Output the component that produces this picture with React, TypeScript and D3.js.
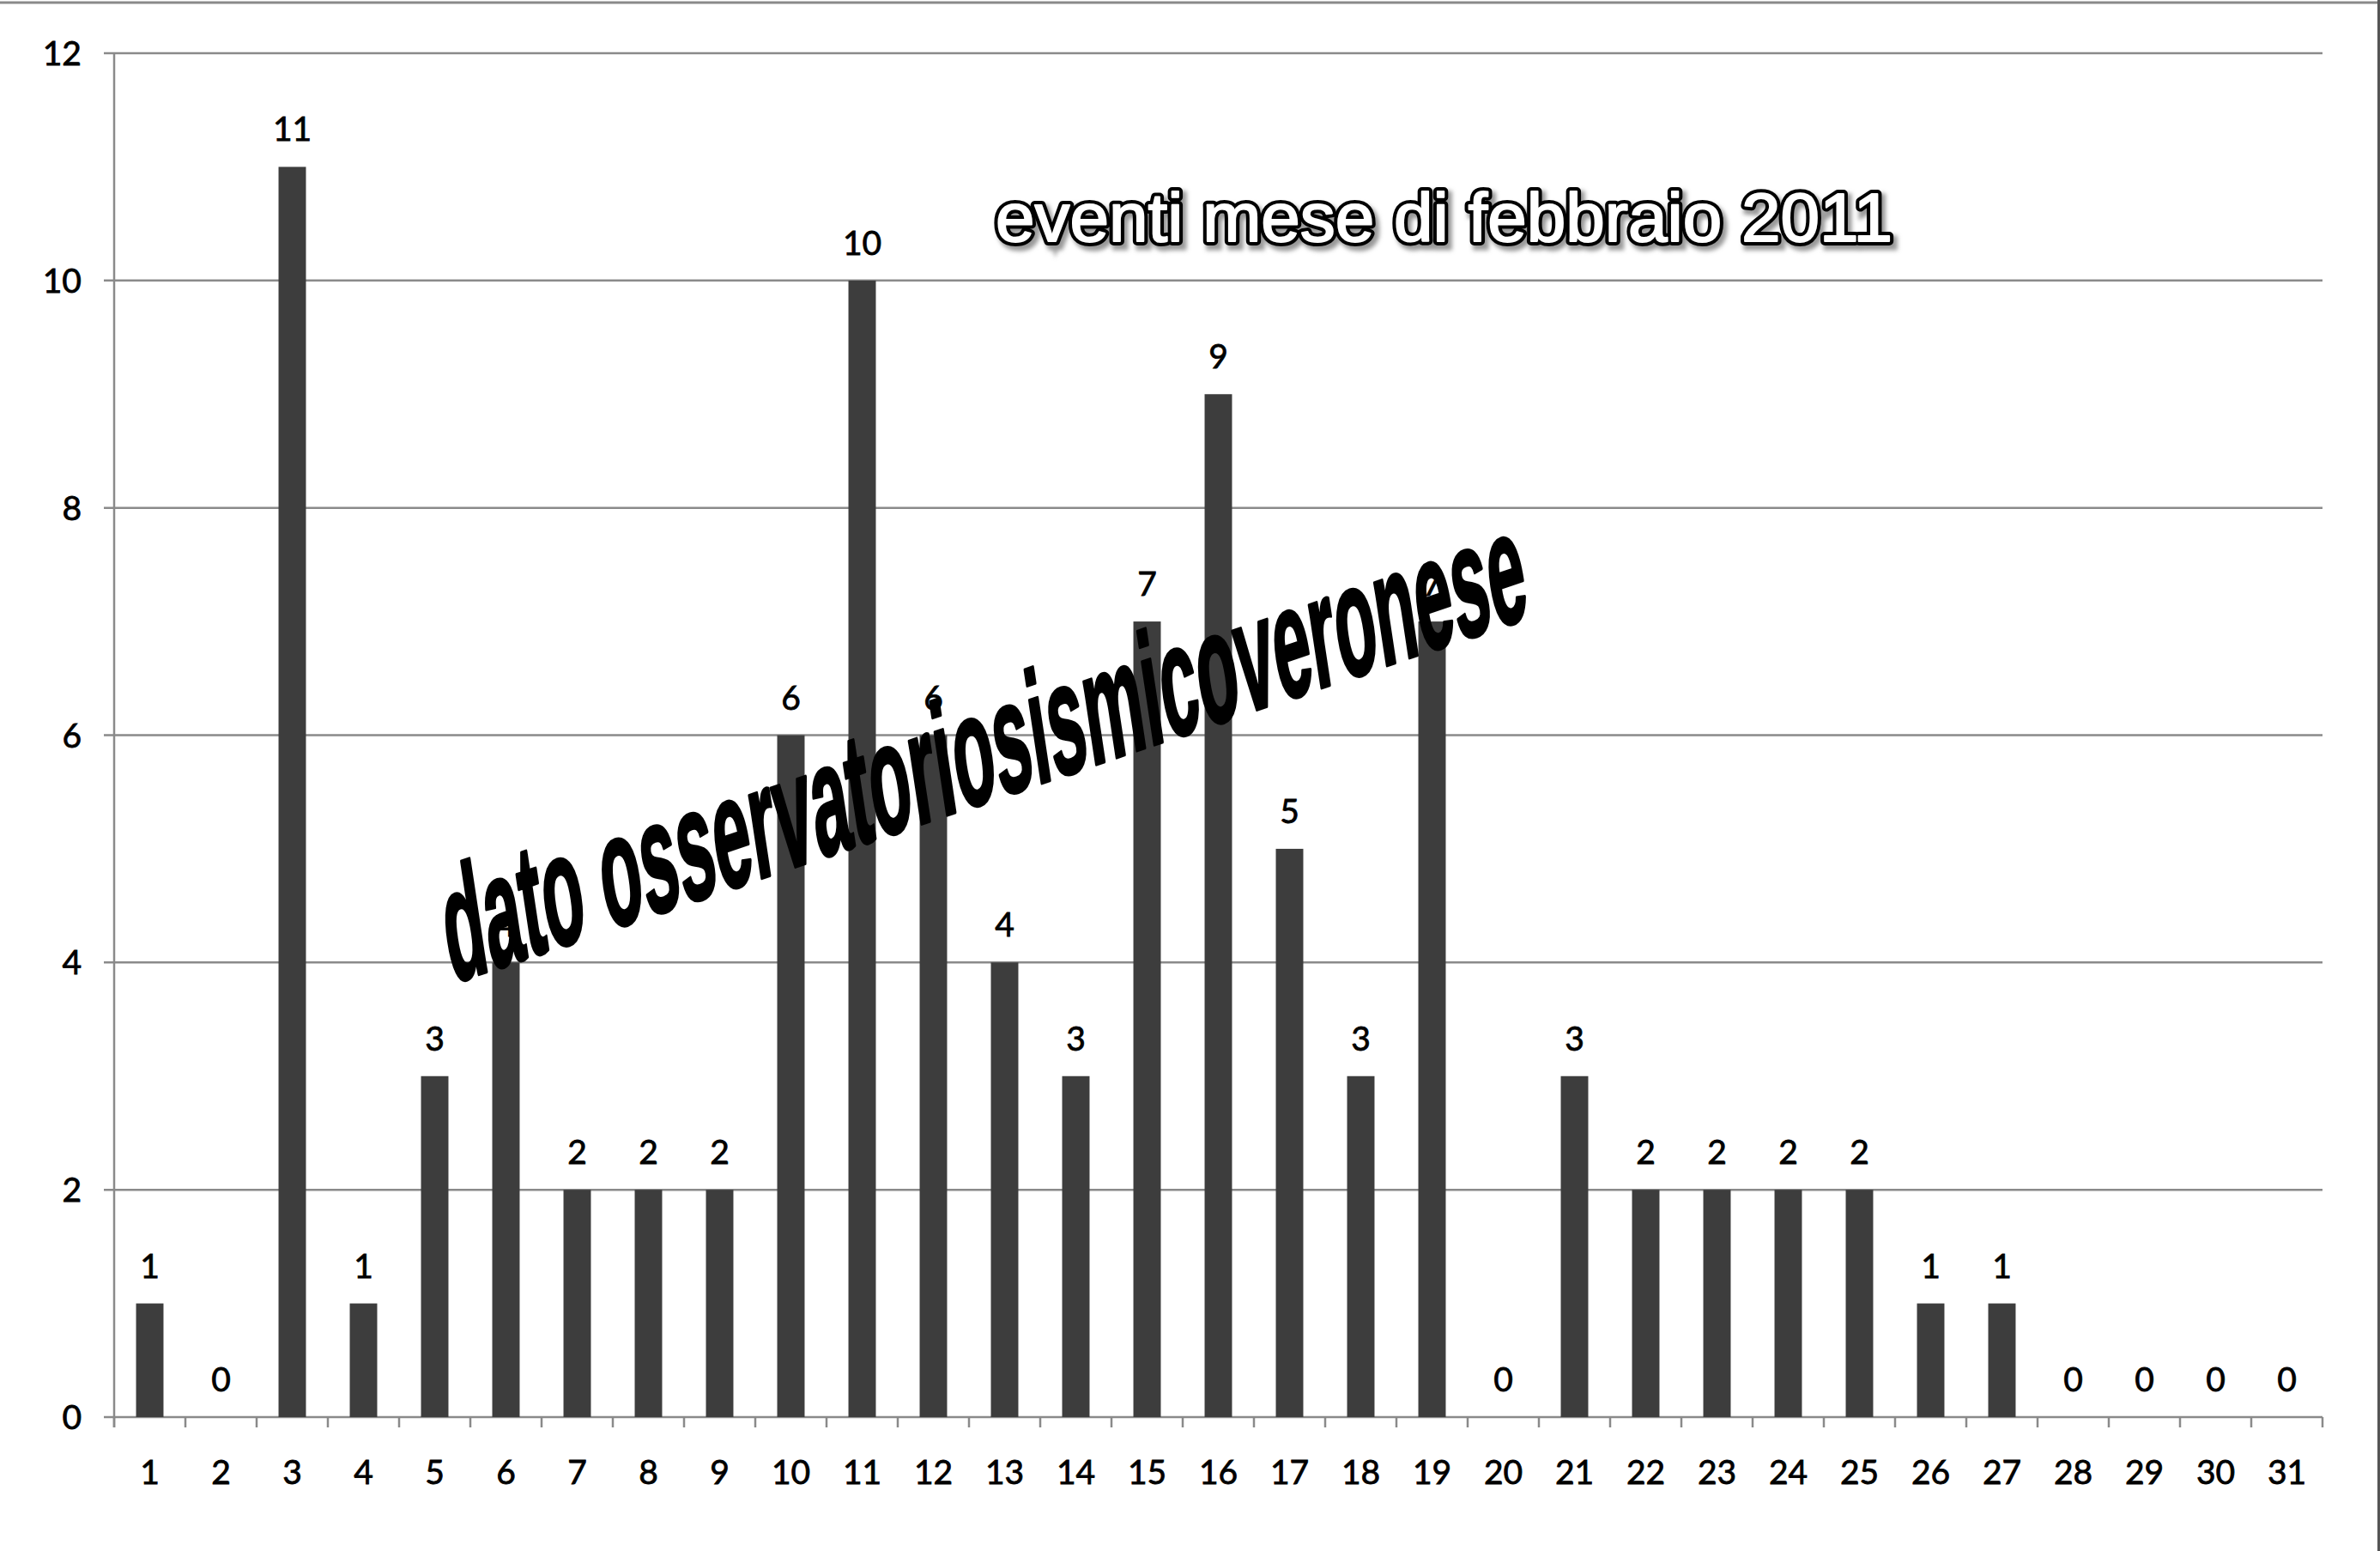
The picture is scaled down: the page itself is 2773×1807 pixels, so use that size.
import React, { useEffect } from "react";
import { scaleBand, scaleLinear, range } from "d3";

// giorni del mese e numero di eventi
const days = range(1, 32).map(String);
const events = [
  1, 0, 11, 1, 3, 4, 2, 2, 2, 6, 10, 6, 4, 3, 7, 9, 5, 3, 7, 0, 3, 2, 2, 2, 2,
  1, 1, 0, 0, 0, 0,
];
const yTicks = [0, 2, 4, 6, 8, 10, 12];
const title = "eventi mese di febbraio 2011";
const watermark = "dato osservatoriosismicoveronese";

const W = 2773;
const H = 1807;
const left = 133;
const right = 2706;
const top = 62;
const bottom = 1651;
const tickLen = 12;
const labelFont = "Lato, 'Open Sans', sans-serif";

export default function App() {
  useEffect(() => {
    document.body.style.margin = "0";
  }, []);

  const x = scaleBand<string>()
    .domain(days)
    .range([left, right])
    .paddingInner(0.615)
    .paddingOuter(0.3075);
  const y = scaleLinear().domain([0, 12]).range([bottom, top]);
  const step = x.step();
  const bw = x.bandwidth();
  const boundaries = range(days.length + 1).map((i) => left + i * step);

  // stile comune per le etichette (la scansione ingrossa i caratteri)
  const lbl = {
    fontFamily: labelFont,
    fontSize: 39,
    fill: "#000",
    stroke: "#000",
    strokeWidth: 0.8,
  };

  return (
    <svg width={W} height={H} style={{ display: "block", background: "#fff" }}>
      <defs>
        <filter id="shadow" x="-5%" y="-20%" width="110%" height="140%">
          <feGaussianBlur stdDeviation="2.5" />
        </filter>
      </defs>
      <rect width={W} height={H} fill="#fff" />
      {/* bordi della scansione */}
      <line x1={0} x2={W} y1={3} y2={3} stroke="#8a8a8a" strokeWidth={3} />
      <line x1={W - 1.5} x2={W - 1.5} y1={0} y2={H} stroke="#555" strokeWidth={3} />

      {/* griglia */}
      {yTicks.map((t) => (
        <line
          key={"g" + t}
          x1={left - tickLen}
          x2={right}
          y1={y(t)}
          y2={y(t)}
          stroke="#8a8a8a"
          strokeWidth={2.5}
        />
      ))}
      <line x1={left} x2={left} y1={top} y2={bottom + tickLen} stroke="#8a8a8a" strokeWidth={2.5} />
      {boundaries.map((bx, i) => (
        <line
          key={"t" + i}
          x1={bx}
          x2={bx}
          y1={bottom}
          y2={bottom + tickLen}
          stroke="#8a8a8a"
          strokeWidth={2.5}
        />
      ))}

      {/* etichette asse y */}
      {yTicks.map((t) => (
        <text key={"yl" + t} x={95} y={y(t)} dy="0.36em" textAnchor="end" {...lbl}>
          {t}
        </text>
      ))}

      {/* barre */}
      {days.map((d, i) => (
        <rect
          key={"b" + d}
          x={x(d)}
          y={y(events[i])}
          width={bw}
          height={bottom - y(events[i])}
          fill="#3d3d3d"
        />
      ))}

      {/* valori */}
      {days.map((d, i) => (
        <text
          key={"v" + d}
          x={(x(d) as number) + bw / 2}
          y={y(events[i]) - 30}
          textAnchor="middle"
          {...lbl}
        >
          {events[i]}
        </text>
      ))}

      {/* etichette asse x */}
      {days.map((d) => (
        <text
          key={"xl" + d}
          x={(x(d) as number) + bw / 2}
          y={1729}
          textAnchor="middle"
          {...lbl}
        >
          {d}
        </text>
      ))}

      {/* titolo con contorno */}
      <g fontFamily="'Liberation Sans', Arial, sans-serif" fontSize={80}>
        <text
          x={1164}
          y={286}
          textLength={1045}
          lengthAdjust="spacingAndGlyphs"
          fill="#999"
          stroke="#999"
          strokeWidth={11}
          filter="url(#shadow)"
        >
          {title}
        </text>
        <text
          x={1160}
          y={281}
          textLength={1045}
          lengthAdjust="spacingAndGlyphs"
          fill="#000"
          stroke="#000"
          strokeWidth={10}
          strokeLinejoin="round"
        >
          {title}
        </text>
        <text
          x={1160}
          y={281}
          textLength={1045}
          lengthAdjust="spacingAndGlyphs"
          fill="#fff"
          stroke="#fff"
          strokeWidth={2}
          strokeLinejoin="round"
        >
          {title}
        </text>
      </g>

      {/* scritta obliqua */}
      <g transform="matrix(1,-0.34,0.15,1,526,1146)">
        <text
          x={0}
          y={0}
          fontFamily="'Liberation Sans', Arial, sans-serif"
          fontWeight="bold"
          fontSize={182}
          textLength={1258}
          lengthAdjust="spacingAndGlyphs"
          fill="#000"
          stroke="#000"
          strokeWidth={4}
          strokeLinejoin="round"
        >
          {watermark}
        </text>
      </g>
    </svg>
  );
}
